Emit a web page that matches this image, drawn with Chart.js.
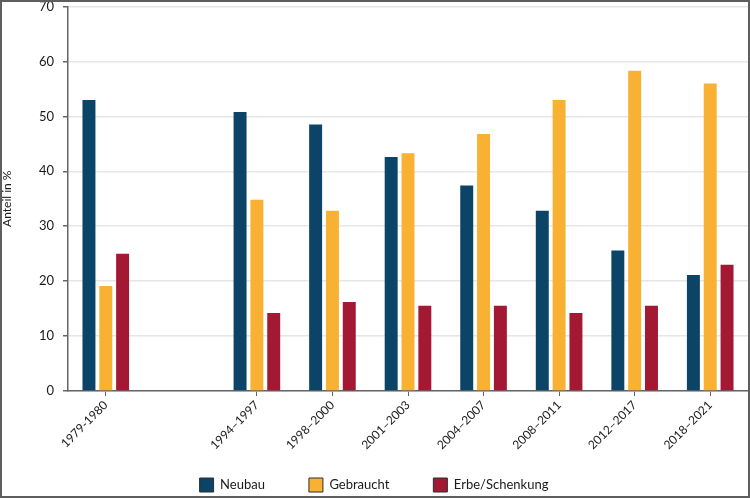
<!DOCTYPE html>
<html>
<head>
<meta charset="utf-8">
<script src="https://cdn.jsdelivr.net/npm/chart.js@4/dist/chart.umd.min.js"></script>
<style>
  html, body { margin: 0; padding: 0; background: #fff; }
  #wrap { position: relative; width: 750px; height: 498px; }
  #frame { position: absolute; left: 0; top: 0; width: 750px; height: 498px; box-sizing: border-box; border: 2px solid #5e5e5e; pointer-events: none; }
</style>
</head>
<body>
<div id="wrap">
  <canvas id="c" width="750" height="498"></canvas>
  <div id="frame"></div>
</div>
<script>
const categories = ['1979-1980', '', '1994–1997', '1998–2000', '2001–2003', '2004–2007', '2008–2011', '2012–2017', '2018–2021'];
const neubau      = [53.0, null, 50.8, 48.5, 42.6, 37.4, 32.8, 25.6, 21.1];
const gebraucht   = [19.1, null, 34.8, 32.8, 43.3, 46.8, 53.0, 58.3, 56.0];
const erbe        = [25.0, null, 14.2, 16.2, 15.5, 15.5, 14.2, 15.5, 23.0];
const seriesNames = ['Neubau', 'Gebraucht', 'Erbe/Schenkung'];
const yTicks = [0, 10, 20, 30, 40, 50, 60, 70];

const colors = ['#0b4466', '#f8b133', '#a31833'];
const FONT = 'Lato, "Open Sans", sans-serif';

// let rotated x labels extend below the (compact) x-axis box without being clipped
const unclipX = {
  id: 'unclipX',
  afterLayout(chart) { chart.scales.x.bottom = chart.height; }
};

new Chart(document.getElementById('c'), {
  type: 'bar',
  data: {
    labels: categories,
    datasets: [neubau, gebraucht, erbe].map((d, i) => ({
      label: seriesNames[i],
      data: d,
      backgroundColor: colors[i],
      borderWidth: 0,
      categoryPercentage: 0.668,
      barPercentage: 0.77
    }))
  },
  plugins: [unclipX],
  options: {
    responsive: false,
    animation: false,
    devicePixelRatio: 1,
    layout: { padding: { left: 0, right: 2, top: 0, bottom: -4 } },
    plugins: {
      tooltip: { enabled: false },
      legend: {
        position: 'bottom',
        align: 'center',
        labels: {
          boxWidth: 14,
          boxHeight: 14,
          padding: 44,
          color: '#1a1a1a',
          font: { family: FONT, size: 13 },
          generateLabels: (chart) => {
            const items = Chart.defaults.plugins.legend.labels.generateLabels(chart);
            items.forEach(it => { it.strokeStyle = '#2e2e2e'; it.lineWidth = 1; });
            return items;
          }
        }
      }
    },
    scales: {
      x: {
        offset: true,
        grid: {
          display: true, offset: false, drawOnChartArea: false, drawTicks: true, tickLength: 5,
          tickColor: (ctx) => (categories[ctx.index] === '' ? 'rgba(0,0,0,0)' : '#666'),
          color: '#666'
        },
        border: { display: true, color: '#666', width: 1.5 },
        ticks: {
          autoSkip: false,
          minRotation: 45,
          maxRotation: 45,
          padding: 2,
          color: '#1a1a1a',
          font: { family: FONT, size: 12 }
        },
        afterFit: (s) => { s.height = 43; }
      },
      y: {
        min: 0,
        max: 70,
        afterBuildTicks: (s) => { s.ticks = yTicks.map(v => ({ value: v })); },
        grid: { color: '#e6e6e6', lineWidth: 1.5, drawTicks: true, tickLength: 5, tickColor: '#666' },
        border: { display: true, color: '#666', width: 1.5 },
        ticks: {
          padding: 9,
          color: '#1a1a1a',
          font: { family: FONT, size: 13 }
        },
        title: {
          display: true,
          text: 'Anteil in %',
          color: '#1a1a1a',
          font: { family: FONT, size: 12 },
          padding: { top: 0, bottom: 0 }
        },
        afterFit: (s) => { s.width = 68; s.paddingTop = 6.5; s.paddingBottom = 6.5; }
      }
    }
  }
});
</script>
</body>
</html>
